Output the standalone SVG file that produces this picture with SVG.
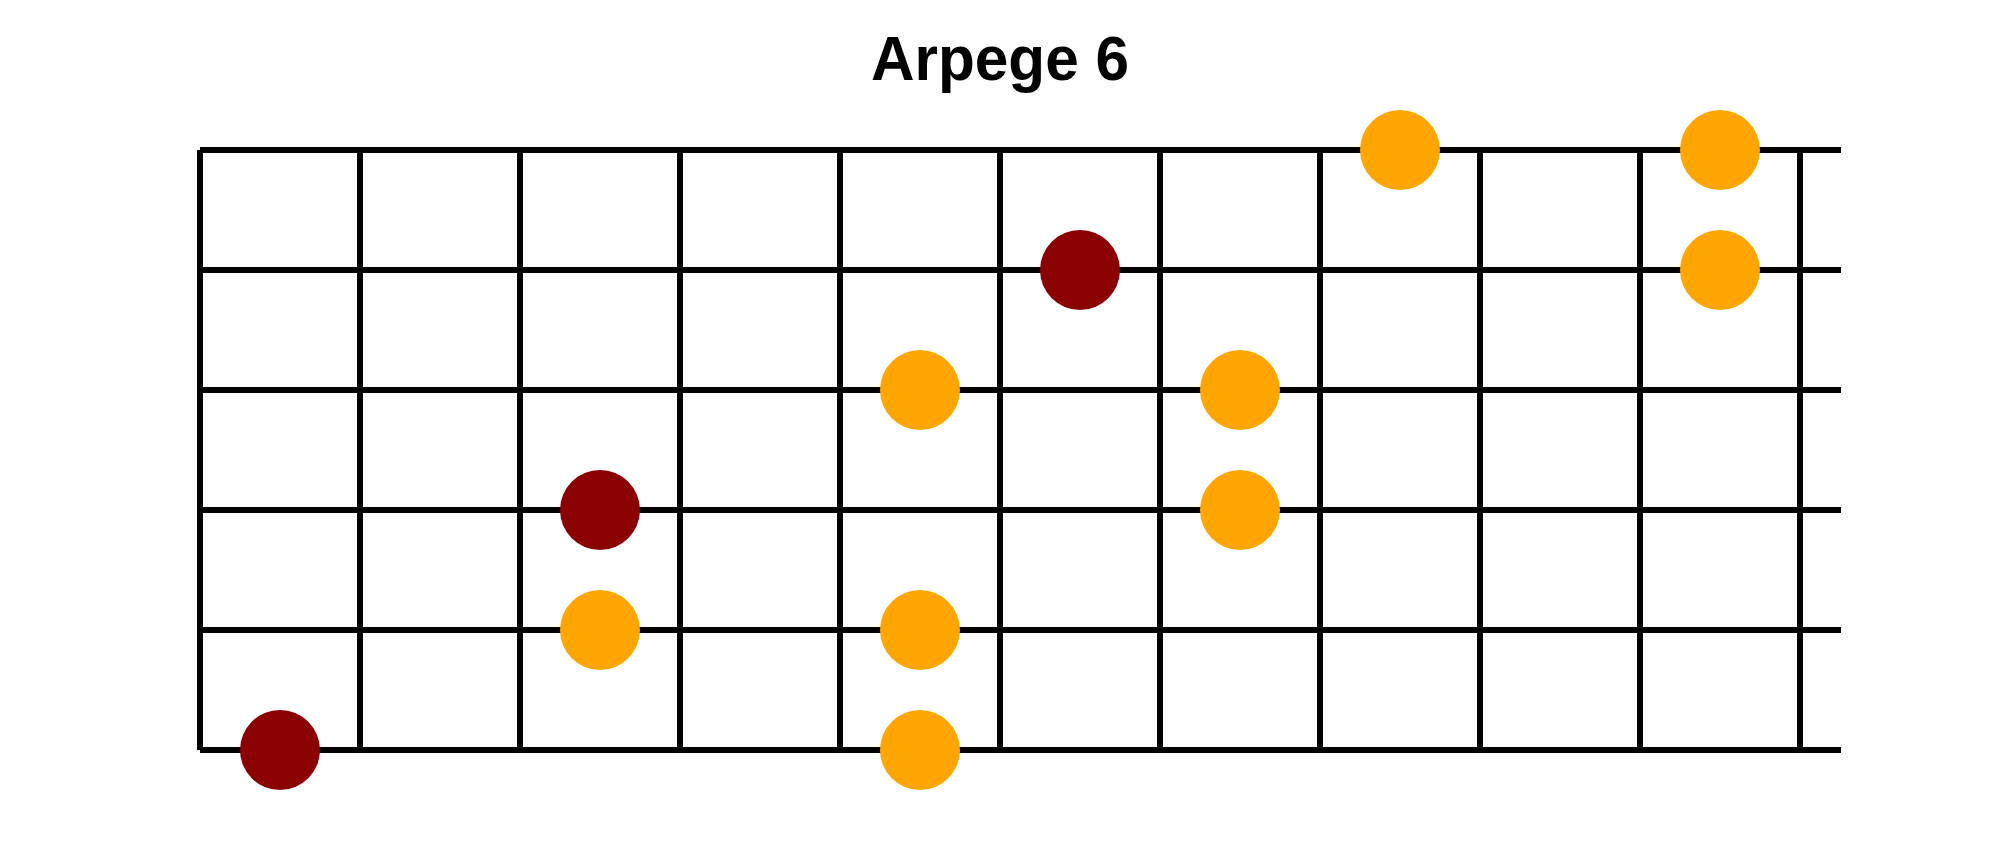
<svg xmlns="http://www.w3.org/2000/svg" width="2000" height="850" viewBox="0 0 2000 850">
<style>
.bg{fill:#ffffff}
.title{font-family:"Liberation Sans",Arial,sans-serif;font-weight:bold;font-size:63px;fill:#000}
.str{stroke:#000;stroke-width:6;fill:none}
.fret{stroke:#000;stroke-width:6;fill:none}
.note{fill:#FFA500}
.root{fill:#8B0000}
</style>
<rect class="bg" x="0" y="0" width="2000" height="850"/>
<text id="title" class="title" x="1000" y="80" text-anchor="middle" textLength="258" lengthAdjust="spacingAndGlyphs">Arpege 6</text>
<g id="connectors">
<line class="str" x1="200" y1="150" x2="1841" y2="150"/>
<line class="str" x1="200" y1="270" x2="1841" y2="270"/>
<line class="str" x1="200" y1="390" x2="1841" y2="390"/>
<line class="str" x1="200" y1="510" x2="1841" y2="510"/>
<line class="str" x1="200" y1="630" x2="1841" y2="630"/>
<line class="str" x1="200" y1="750" x2="1841" y2="750"/>
<line class="fret" x1="200" y1="150" x2="200" y2="750"/>
<line class="fret" x1="360" y1="150" x2="360" y2="750"/>
<line class="fret" x1="520" y1="150" x2="520" y2="750"/>
<line class="fret" x1="680" y1="150" x2="680" y2="750"/>
<line class="fret" x1="840" y1="150" x2="840" y2="750"/>
<line class="fret" x1="1000" y1="150" x2="1000" y2="750"/>
<line class="fret" x1="1160" y1="150" x2="1160" y2="750"/>
<line class="fret" x1="1320" y1="150" x2="1320" y2="750"/>
<line class="fret" x1="1480" y1="150" x2="1480" y2="750"/>
<line class="fret" x1="1640" y1="150" x2="1640" y2="750"/>
<line class="fret" x1="1800" y1="150" x2="1800" y2="750"/>
</g>
<g id="n1"><circle class="note" cx="1400" cy="150" r="40"/></g>
<g id="n2"><circle class="note" cx="1720" cy="150" r="40"/></g>
<g id="n3"><circle class="root" cx="1080" cy="270" r="40"/></g>
<g id="n4"><circle class="note" cx="1720" cy="270" r="40"/></g>
<g id="n5"><circle class="note" cx="920" cy="390" r="40"/></g>
<g id="n6"><circle class="note" cx="1240" cy="390" r="40"/></g>
<g id="n7"><circle class="root" cx="600" cy="510" r="40"/></g>
<g id="n8"><circle class="note" cx="1240" cy="510" r="40"/></g>
<g id="n9"><circle class="note" cx="600" cy="630" r="40"/></g>
<g id="n10"><circle class="note" cx="920" cy="630" r="40"/></g>
<g id="n11"><circle class="root" cx="280" cy="750" r="40"/></g>
<g id="n12"><circle class="note" cx="920" cy="750" r="40"/></g>
</svg>
